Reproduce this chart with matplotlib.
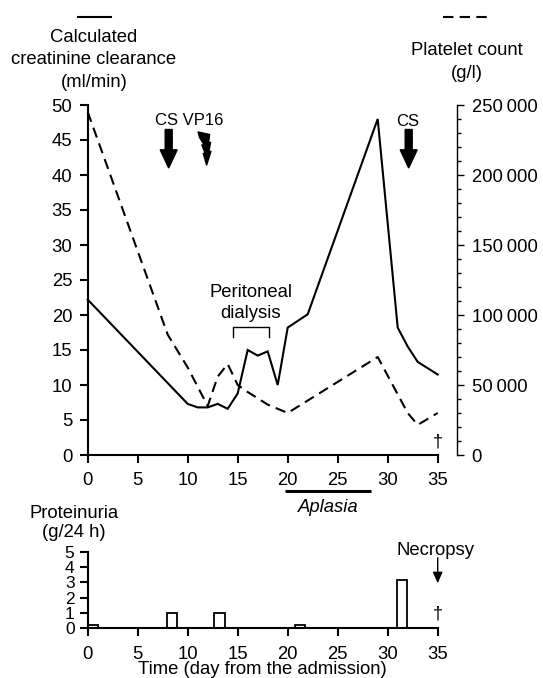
import numpy as np
import matplotlib
matplotlib.use("Agg")
import matplotlib.pyplot as plt
from matplotlib.lines import Line2D
from matplotlib.path import Path
from matplotlib.ticker import MultipleLocator, FuncFormatter

plt.rcParams['font.family'] = ['Liberation Sans', 'DejaVu Sans']
plt.rcParams['font.size'] = 13.3

# ---------------- data ----------------
clear_days = [0, 10, 11, 12, 13, 14, 15, 16, 17, 18, 19, 20, 22, 29, 31, 32, 33, 35]
clear_vals = [22.2, 7.3, 6.8, 6.8, 7.3, 6.6, 8.8, 15.0, 14.2, 14.8, 10.0, 18.2, 20.1, 48.0,
              18.2, 15.5, 13.3, 11.5]

plt_days = [0, 8, 10, 12, 13, 14, 15, 16, 18, 20, 29, 32, 33, 35]
plt_vals = [245000, 86000, 62500, 35000, 56000, 65000, 50000, 45000, 36000, 30000,
            70000, 30000, 21500, 30000]

prot_left = [0, 7.9, 12.65, 20.7, 30.9]
prot_vals = [0.22, 1.02, 1.02, 0.22, 3.15]
prot_width = 1.05

x_ticks = [0, 5, 10, 15, 20, 25, 30, 35]
left_ticks = [0, 5, 10, 15, 20, 25, 30, 35, 40, 45, 50]
right_ticks = [0, 50000, 100000, 150000, 200000, 250000]
prot_ticks = [0, 1, 2, 3, 4, 5]

W, H = 543, 678
fig = plt.figure(figsize=(W / 100, H / 100), dpi=100)


def fx(x):
    return x / W


def fy(y):
    return 1 - y / H


LW = 1.5
# ---------------- top chart ----------------
ax = fig.add_axes([fx(87.7), fy(455), 350 / W, 350 / H])
ax.set_xlim(0, 35)
ax.set_ylim(0, 50)
for s in ['top', 'right']:
    ax.spines[s].set_visible(False)
for s in ['left', 'bottom']:
    ax.spines[s].set_linewidth(LW)
ax.set_xticks(x_ticks)
ax.set_yticks(left_ticks)
ax.tick_params(axis='both', direction='out', length=6, width=LW, pad=5)
ax.tick_params(axis='x', pad=6.5)
ax.plot(clear_days, clear_vals, color='black', lw=1.5, clip_on=False, solid_joinstyle='miter')

ax2 = ax.twinx()
ax2.set_ylim(0, 250000)
for s in ['top', 'left', 'bottom']:
    ax2.spines[s].set_visible(False)
ax2.spines['right'].set_position(('outward', 14))
ax2.spines['right'].set_linewidth(1.0)
ax2.set_yticks(right_ticks)
ax2.yaxis.set_minor_locator(MultipleLocator(10000))
ax2.yaxis.set_major_formatter(FuncFormatter(
    lambda v, p: '0' if v == 0 else '{:d}\u2009{:03d}'.format(int(v) // 1000, int(v) % 1000)))
ax2.tick_params(axis='y', which='major', direction='out', length=5, width=1.0, pad=5.5)
ax2.tick_params(axis='y', which='minor', direction='out', length=3, width=1.0)
ax2.plot(plt_days, plt_vals, color='black', lw=1.5, linestyle=(0, (5, 3)), clip_on=False)

# treatment arrows
for xa in [8.1, 32.1]:
    ax.arrow(xa, 46.5, 0, -5.5, width=0.7, head_width=1.7, head_length=2.6,
             length_includes_head=True, fc='black', ec='black', clip_on=False)
ax.text(10.15, 47.8, 'CS VP16', ha='center', va='center', fontsize=12)
ax.text(32.0, 47.6, 'CS', ha='center', va='center', fontsize=12)

# lightning bolt (VP16)
bolt = np.array([(0, 0), (11.5, 2.5), (10.5, 10), (12.5, 10.5), (10.8, 19), (12.8, 19.5),
                 (8.5, 33), (5.2, 21.5), (7.0, 21.0), (3.8, 13.0), (5.8, 12.5), (1.5, 5.5)],
                dtype=float)
bolt[:, 0] -= 6.4
bolt[:, 1] = 16.5 - bolt[:, 1]
bolt_path = Path(np.vstack([bolt, bolt[:1]]), closed=True)
ax.plot([11.6], [43.8], marker=bolt_path, markersize=23.8, color='black',
        markeredgewidth=1.0, linestyle='none', clip_on=False)

# peritoneal dialysis
ax.text(16.3, 22.6, 'Peritoneal', ha='center', va='baseline')
ax.text(16.3, 19.5, 'dialysis', ha='center', va='baseline')
ax.plot([14.5, 14.5, 18.1, 18.1], [16.9, 18.3, 18.3, 16.9], color='black', lw=1.0)

# dagger
ax.text(35, 1.8, '\u2020', ha='center', va='center', fontsize=13)

# aplasia
ax.plot([19.7, 28.3], [-5.1, -5.1], color='black', lw=2.2, clip_on=False, solid_capstyle='butt')
ax.text(24.06, -8.1, 'Aplasia', ha='center', va='baseline', style='italic')

# header labels with line keys
fig.add_artist(Line2D([fx(78), fx(111)], [fy(17.3), fy(17.3)], color='black', lw=1.5))
fig.add_artist(Line2D([fx(443), fx(491)], [fy(17.3), fy(17.3)], color='black', lw=1.5,
                      linestyle=(0, (5, 3))))
for txt, yb in [('Calculated', 41.5), ('creatinine clearance', 64.5), ('(ml/min)', 87)]:
    fig.text(fx(94), fy(yb), txt, ha='center', va='baseline')
for txt, yb in [('Platelet count', 55), ('(g/l)', 77.5)]:
    fig.text(fx(467.3), fy(yb), txt, ha='center', va='baseline')

# ---------------- bottom chart ----------------
bx = fig.add_axes([fx(87.7), fy(628.3), 350 / W, 76.6 / H])
bx.set_xlim(0, 35)
bx.set_ylim(0, 5)
for s in ['top', 'right']:
    bx.spines[s].set_visible(False)
for s in ['left', 'bottom']:
    bx.spines[s].set_linewidth(LW)
bx.set_xticks(x_ticks)
bx.set_yticks(prot_ticks)
bx.tick_params(axis='both', direction='out', length=6, width=LW, pad=3.5)
bx.tick_params(axis='x', pad=6.5)
bx.tick_params(axis='y', labelsize=12.5)
bx.bar(prot_left, prot_vals, width=prot_width, align='edge', facecolor='white',
       edgecolor='black', linewidth=1.3, zorder=1)
bx.annotate('', xy=(35, 2.94), xytext=(35, 4.6),
            arrowprops=dict(arrowstyle='-|>,head_length=0.5,head_width=0.22',
                            color='black', lw=1.0, shrinkA=0, shrinkB=0),
            annotation_clip=False)
bx.text(34.8, 4.8, 'Necropsy', ha='center', va='baseline')
bx.text(35, 0.93, '\u2020', ha='center', va='center', fontsize=13)

fig.text(fx(73.8), fy(518), 'Proteinuria', ha='center', va='baseline')
fig.text(fx(73.8), fy(537), '(g/24 h)', ha='center', va='baseline')
fig.text(fx(262.7), fy(674), 'Time (day from the admission)', ha='center', va='baseline')

fig.savefig('out.png', dpi=100)
